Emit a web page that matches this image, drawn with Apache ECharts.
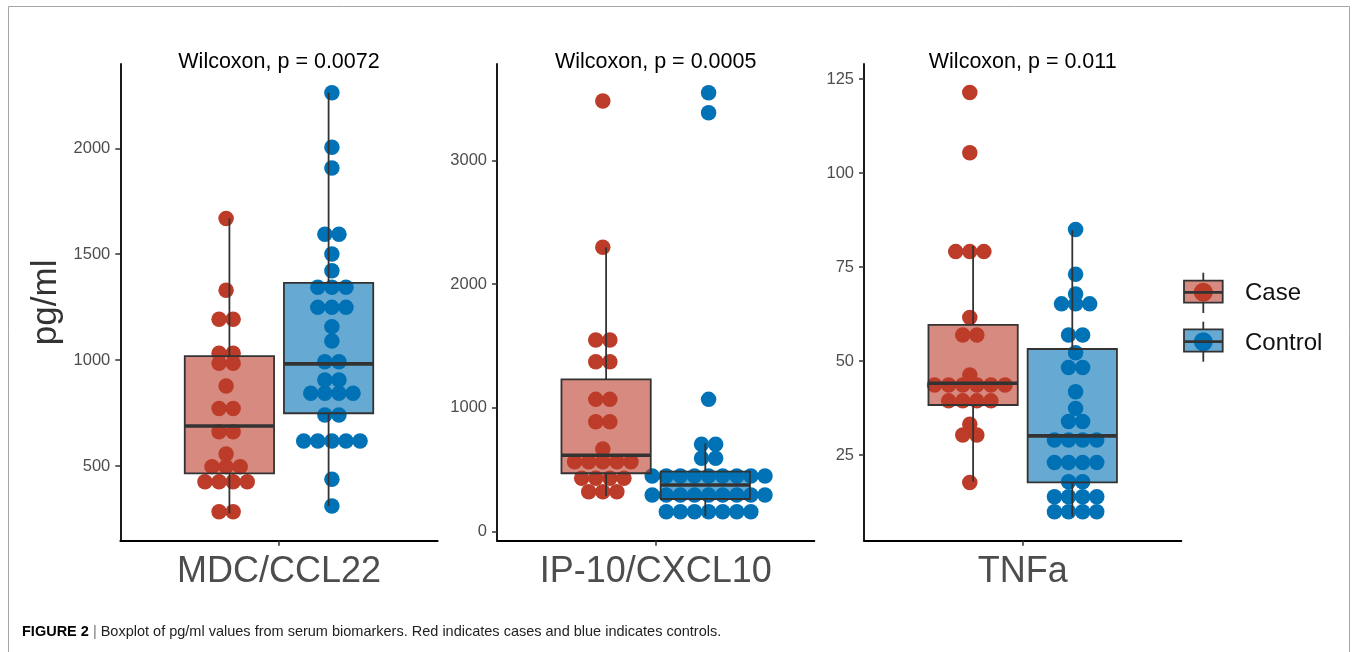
<!DOCTYPE html>
<html><head><meta charset="utf-8">
<script src="https://cdn.jsdelivr.net/npm/echarts@6/dist/echarts.min.js"></script>
<style>html,body{margin:0;padding:0;background:#fff}#c{width:1356px;height:652px}</style>
</head><body><div id="c"></div>
<script>
// ---------------- data ----------------
const biomarkers = ['MDC/CCL22', 'IP-10/CXCL10', 'TNFa'];
const pLabels = ['Wilcoxon, p = 0.0072', 'Wilcoxon, p = 0.0005', 'Wilcoxon, p = 0.011'];
const groups = ['Case', 'Control'];
const yLabel = 'pg/ml';
const caption = ['FIGURE 2', '|', 'Boxplot of pg/ml values from serum biomarkers. Red indicates cases and blue indicates controls.'];

const mdcTicks = [500, 1000, 1500, 2000];
const ipTicks = [0, 1000, 2000, 3000];
const tnfTicks = [25, 50, 75, 100, 125];

// dot values (binned, one entry per dot)
const mdcCase = [1669, 1330, 1193, 1193, 1032, 1032, 985, 985, 878, 771, 771, 662, 662, 557, 497, 497, 497, 426, 426, 426, 426, 284, 284];
const mdcControl = [2262, 2005, 1907, 1594, 1594, 1501, 1422, 1344, 1344, 1344, 1249, 1249, 1249, 1158, 1090, 992, 992, 906, 906, 843, 843, 843, 843, 741, 741, 618, 618, 618, 618, 618, 437, 311];
const ipCase = [3479, 2297, 1548, 1548, 1373, 1373, 1069, 1069, 888, 888, 668, 565, 565, 565, 565, 565, 431, 431, 431, 431, 323, 323, 323];
const ipControl = [3546, 3385, 1069, 706, 706, 593, 593, 450, 450, 450, 450, 450, 450, 450, 450, 450, 296, 296, 296, 296, 296, 296, 296, 296, 296, 162, 162, 162, 162, 162, 162, 162];
const tnfCase = [121.4, 105.4, 79.1, 79.1, 79.1, 61.6, 56.9, 56.9, 46.3, 43.6, 43.6, 43.6, 43.6, 43.6, 43.6, 39.4, 39.4, 39.4, 39.4, 33.2, 30.3, 30.3, 17.7];
const tnfControl = [85.0, 73.1, 67.8, 65.2, 65.2, 65.2, 56.9, 56.9, 52.2, 48.3, 48.3, 41.8, 37.4, 33.9, 33.9, 29.0, 29.0, 29.0, 29.0, 23.0, 23.0, 23.0, 23.0, 17.9, 17.9, 13.9, 13.9, 13.9, 13.9, 9.9, 9.9, 9.9, 9.9];

// box stats: [lower whisker, Q1, median, Q3, upper whisker]
const mdcCaseBox = [275, 465, 689, 1019, 1669];
const mdcControlBox = [311, 749, 982, 1365, 2262];
const ipCaseBox = [290, 472, 617, 1231, 2297];
const ipControlBox = [125, 264, 377, 485, 714];
const tnfCaseBox = [17.9, 38.3, 44.1, 59.6, 80.6];
const tnfControlBox = [8.6, 17.7, 30.1, 53.2, 84.8];

// ---------------- layout / style ----------------
const panels = [
  { dots: [mdcCase, mdcControl], boxes: [mdcCaseBox, mdcControlBox], ticks: mdcTicks, ymin: 147.3, ymax: 2398, left: 120.3 },
  { dots: [ipCase, ipControl], boxes: [ipCaseBox, ipControlBox], ticks: ipTicks, ymin: -72.7, ymax: 3778, left: 497 },
  { dots: [tnfCase, tnfControl], boxes: [tnfCaseBox, tnfControlBox], ticks: tnfTicks, ymin: 2.21, ymax: 129.0, left: 864 }
];
const PANEL_W = 317.4, PANEL_TOP = 64, PANEL_H = 476.7;
const XMIN = 0.4, XMAX = 1.6;
const BOX_OFF = 0.1875, BOX_HALF = 0.1688, DOT_OFF = 0.2, DOT_STEP = 0.0533;
const dotColors = ['#BC3C29', '#0072B5'];
const fillColors = ['rgba(188,60,41,0.6)', 'rgba(0,114,181,0.6)'];
const LINE = '#333333';
const FONT = '"Liberation Sans", Arial, Helvetica, sans-serif';

function stack(values, center) {
  const counts = new Map();
  values.forEach(v => counts.set(v, (counts.get(v) || 0) + 1));
  const out = [];
  counts.forEach((n, v) => {
    for (let i = 0; i < n; i++) out.push([center + (i - (n - 1) / 2) * DOT_STEP, v]);
  });
  return out;
}

function boxSeries(p, g, stats) {
  const xc = 1 + (g === 0 ? -BOX_OFF : BOX_OFF);
  return {
    type: 'custom', xAxisIndex: p, yAxisIndex: p, z: 5, silent: true,
    data: [[xc].concat(stats)],
    renderItem(params, api) {
      const x = api.value(0);
      const tl = api.coord([x - BOX_HALF, api.value(4)]);
      const br = api.coord([x + BOX_HALF, api.value(2)]);
      const md = api.coord([x, api.value(3)]);
      const hi = api.coord([x, api.value(5)]);
      const lo = api.coord([x, api.value(1)]);
      return {
        type: 'group', children: [
          { type: 'line', shape: { x1: md[0], y1: hi[1], x2: md[0], y2: tl[1] }, style: { stroke: LINE, lineWidth: 1.8 } },
          { type: 'line', shape: { x1: md[0], y1: br[1], x2: md[0], y2: lo[1] }, style: { stroke: LINE, lineWidth: 1.8 } },
          { type: 'rect', shape: { x: tl[0], y: tl[1], width: br[0] - tl[0], height: br[1] - tl[1] }, style: { fill: fillColors[g], stroke: LINE, lineWidth: 1.8 } },
          { type: 'line', shape: { x1: tl[0], y1: md[1], x2: br[0], y2: md[1] }, style: { stroke: LINE, lineWidth: 3.6 } }
        ]
      };
    }
  };
}

const grid = [], xAxis = [], yAxis = [], series = [], graphic = [];
panels.forEach((pn, p) => {
  grid.push({ left: pn.left, top: PANEL_TOP, width: PANEL_W, height: PANEL_H, containLabel: false });
  xAxis.push({
    type: 'value', gridIndex: p, min: XMIN, max: XMAX,
    axisLine: { show: true, onZero: false, lineStyle: { color: '#000', width: 1.8 } },
    axisTick: { show: true, customValues: [1], length: 5, lineStyle: { color: '#333', width: 1.5 } },
    axisLabel: { customValues: [1], formatter: () => biomarkers[p], fontSize: 36, color: '#4D4D4D', fontFamily: FONT, margin: 13 },
    splitLine: { show: false }
  });
  yAxis.push({
    type: 'value', gridIndex: p, min: pn.ymin, max: pn.ymax,
    name: p === 0 ? yLabel : '', nameLocation: 'middle', nameGap: 56,
    nameTextStyle: { fontSize: 35, color: '#333', fontFamily: FONT },
    axisLine: { show: true, onZero: false, lineStyle: { color: '#000', width: 1.8 } },
    axisTick: { show: true, customValues: pn.ticks, length: 5, lineStyle: { color: '#333', width: 1.5 } },
    axisLabel: { customValues: pn.ticks, formatter: v => String(v), fontSize: 16.5, color: '#4D4D4D', fontFamily: FONT, margin: 10 },
    splitLine: { show: false }
  });
  pn.dots.forEach((vals, g) => {
    series.push({
      type: 'scatter', xAxisIndex: p, yAxisIndex: p, z: 3, silent: true,
      symbol: 'circle', symbolSize: 15.5,
      itemStyle: { color: dotColors[g], opacity: 1 },
      data: stack(vals, 1 + (g === 0 ? -DOT_OFF : DOT_OFF))
    });
  });
  pn.boxes.forEach((st, g) => series.push(boxSeries(p, g, st)));
  graphic.push({
    type: 'text', x: pn.left + PANEL_W / 2, y: 62,
    style: { text: pLabels[p], font: '21.5px ' + FONT, fill: '#000', textAlign: 'center', textVerticalAlign: 'middle', align: 'center', verticalAlign: 'middle' }
  });
});

// frame
graphic.push({ type: 'rect', shape: { x: 8.5, y: 6.5, width: 1341, height: 720 }, style: { fill: 'none', stroke: '#A6A6A6', lineWidth: 1 }, z: -1 });

// legend
const legendKeys = [{ top: 280.7, bot: 302.7, med: 292.3, w1: 272.7, w2: 313, ty: 293 }, { top: 329.3, bot: 351.7, med: 341.7, w1: 321.7, w2: 361.7, ty: 343 }];
legendKeys.forEach((k, g) => {
  const cx = 1203.3, x0 = 1184, x1 = 1222.7;
  graphic.push({ type: 'line', shape: { x1: cx, y1: k.w1, x2: cx, y2: k.top }, style: { stroke: LINE, lineWidth: 1.8 } });
  graphic.push({ type: 'line', shape: { x1: cx, y1: k.bot, x2: cx, y2: k.w2 }, style: { stroke: LINE, lineWidth: 1.8 } });
  graphic.push({ type: 'circle', shape: { cx: cx, cy: k.med, r: 9.5 }, style: { fill: dotColors[g] } });
  graphic.push({ type: 'rect', shape: { x: x0, y: k.top, width: x1 - x0, height: k.bot - k.top }, style: { fill: fillColors[g], stroke: LINE, lineWidth: 1.8 } });
  graphic.push({ type: 'line', shape: { x1: x0, y1: k.med, x2: x1, y2: k.med }, style: { stroke: LINE, lineWidth: 2.8 } });
  graphic.push({ type: 'text', x: 1245, y: k.ty, style: { text: groups[g], font: '24px ' + FONT, fill: '#111', textAlign: 'left', textVerticalAlign: 'middle', align: 'left', verticalAlign: 'middle' } });
});

// caption
graphic.push({
  type: 'text', x: 22, y: 632,
  style: {
    text: '{b|' + caption[0] + '} {s|' + caption[1] + '} {n|' + caption[2] + '}',
    font: '14.5px ' + FONT, fill: '#222', textAlign: 'left', textVerticalAlign: 'middle', align: 'left', verticalAlign: 'middle',
    rich: {
      b: { fontWeight: 'bold', fontSize: 14.5, fontFamily: FONT, fill: '#000', color: '#000' },
      s: { fontSize: 14.5, fontFamily: FONT, fill: '#777', color: '#777' },
      n: { fontSize: 14.5, fontFamily: FONT, fill: '#222', color: '#222' }
    }
  }
});

const chart = echarts.init(document.getElementById('c'), null, { renderer: 'canvas' });
chart.setOption({ animation: false, backgroundColor: '#fff', grid, xAxis, yAxis, series, graphic });
</script>
</body></html>
